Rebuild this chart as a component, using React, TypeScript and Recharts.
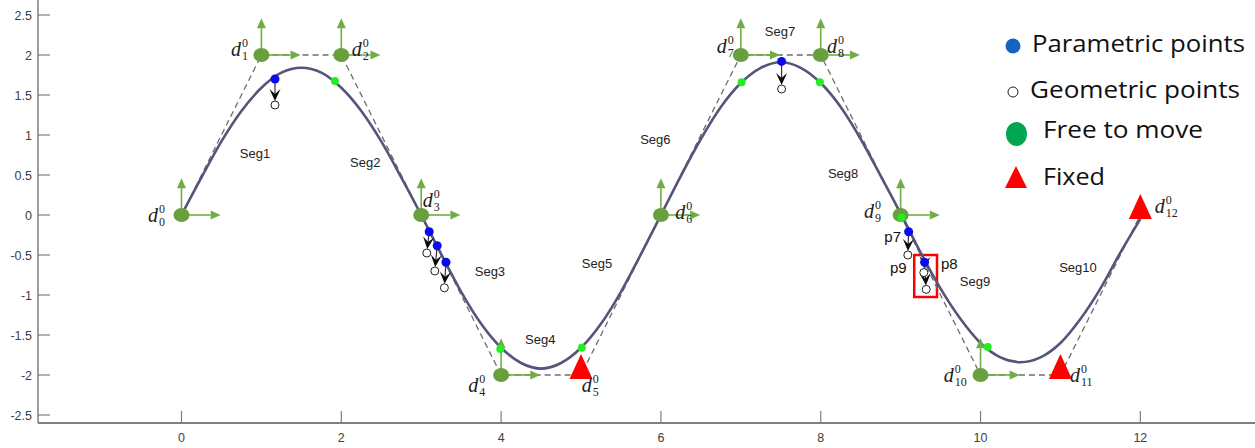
import React from "react";
import {
  ComposedChart,
  Line,
  Scatter,
  XAxis,
  YAxis,
  ReferenceLine,
  ReferenceArea,
  Legend,
} from "recharts";

// spline curve
const curveX = [
  0, 0.25, 0.5, 0.75, 1, 1.25, 1.5, 1.75, 2, 2.25, 2.5, 2.75, 3, 3.25, 3.5,
  3.75, 4, 4.25, 4.5, 4.75, 5, 5.25, 5.5, 5.75, 6, 6.25, 6.5, 6.75, 7, 7.25,
  7.5, 7.75, 8, 8.25, 8.5, 8.75, 9, 9.25, 9.5, 9.75, 10, 10.25, 10.5, 10.75,
  11, 11.25, 11.5, 11.75, 12,
];
const curveY = [
  0, 0.47, 0.92, 1.3, 1.59, 1.78, 1.84, 1.78, 1.59, 1.3, 0.92, 0.47, 0,
  -0.49, -0.96, -1.36, -1.66, -1.85, -1.92, -1.85, -1.66, -1.36, -0.96, -0.49,
  0, 0.49, 0.95, 1.35, 1.65, 1.84, 1.91, 1.84, 1.65, 1.35, 0.95, 0.49, 0.02,
  -0.47, -0.92, -1.3, -1.6, -1.78, -1.84, -1.78, -1.6, -1.3, -0.92, -0.47,
  -0.05,
];

// control points d0..d12
const ctrlX = [0, 1, 2, 3, 4, 5, 6, 7, 8, 9, 10, 11, 12];
const ctrlY = [0, 2, 2, 0, -2, -2, 0, 2, 2, 0, -2, -2, 0];
const fixedIdx = [5, 11, 12];

// parametric (blue) and geometric (hollow) points
const paramX = [1.17, 3.1, 3.2, 3.31, 7.51, 9.1, 9.3];
const paramY = [1.7, -0.21, -0.385, -0.59, 1.92, -0.21, -0.59];
const geomX = [1.17, 3.07, 3.17, 3.29, 7.51, 9.09, 9.29, 9.32];
const geomY = [1.375, -0.475, -0.7, -0.91, 1.575, -0.5, -0.72, -0.93];
const geomFrom = [0, 1, 2, 3, 4, 5, 6, 6];

// bright green knots on the curve
const knotX = [1.92, 3.99, 5.01, 7.01, 7.99, 10.09, 9.01];
const knotY = [1.675, -1.675, -1.66, 1.66, 1.66, -1.65, -0.03];

const segNames = ["Seg1", "Seg2", "Seg3", "Seg4", "Seg5", "Seg6", "Seg7", "Seg8", "Seg9", "Seg10"];
const segX = [0.92, 2.3, 3.86, 4.49, 5.2, 5.93, 7.49, 8.28, 9.93, 11.22];
const segY = [0.775, 0.66, -0.71, -1.55, -0.61, 0.94, 2.29, 0.525, -0.825, -0.66];

const dLabelX = [-0.42, 0.62, 2.13, 3.02, 3.59, 5.01, 6.18, 6.7, 8.08, 8.54, 9.54, 11.12, 12.18];
const dLabelY = [-0.09, 1.99, 1.99, 0.1, -2.21, -2.21, -0.05, 2.025, 2.025, -0.04, -2.09, -2.09, 0.025];

const pNames = ["p7", "p9", "p8"];
const pX = [8.9, 8.97, 9.61];
const pY = [-0.275, -0.66, -0.61];

const boxX = [9.17, 9.455];
const boxY = [-1.025, -0.5];

const legendNames = ["Parametric points", "Geometric points", "Free to move", "Fixed"];

const xTicks = [0, 2, 4, 6, 8, 10, 12];
const yTicks = [-2.5, -2, -1.5, -1, -0.5, 0, 0.5, 1, 1.5, 2, 2.5];

const ARROW_UP = 0.46;
const ARROW_RIGHT = 0.49;

const curveData = curveX.map((x, i) => ({ x, y: curveY[i] }));
const ctrlData = ctrlX.map((x, i) => ({ x, y: ctrlY[i], i }));
const freeData = ctrlData.filter((d) => !fixedIdx.includes(d.i));
const fixedData = ctrlData.filter((d) => fixedIdx.includes(d.i));
const paramData = paramX.map((x, i) => ({ x, y: paramY[i] }));
const geomData = geomX.map((x, i) => ({ x, y: geomY[i] }));
const knotData = knotX.map((x, i) => ({ x, y: knotY[i] }));
const segData = segNames.map((name, i) => ({ x: segX[i], y: segY[i], name }));
const dLabelData = dLabelX.map((x, i) => ({ x, y: dLabelY[i], i }));
const pData = pNames.map((name, i) => ({ x: pX[i], y: pY[i], name }));

const AXIS = "#7f7f7f";
const CURVE = "#55557a";
const ARROW_GREEN = "#70ad47";
const OLIVE = "#6a9f3e";

const arrowHead = (x1: number, y1: number, x2: number, y2: number, L: number, W: number) => {
  const a = Math.atan2(y2 - y1, x2 - x1);
  const bx = x2 - L * Math.cos(a);
  const by = y2 - L * Math.sin(a);
  const nx = -Math.sin(a) * W;
  const ny = Math.cos(a) * W;
  return { bx, by, nx, ny, a };
};

const GreenArrow = (p: any) => {
  const { x1, y1, x2, y2 } = p;
  const { bx, by, nx, ny } = arrowHead(x1, y1, x2, y2, 10, 4.5);
  return (
    <g>
      <line x1={x1} y1={y1} x2={bx} y2={by} stroke={ARROW_GREEN} strokeWidth={1.6} />
      <polygon
        points={`${x2},${y2} ${bx + nx},${by + ny} ${bx - nx},${by - ny}`}
        fill={ARROW_GREEN}
      />
    </g>
  );
};

const BlackArrow = (p: any) => {
  const { x1, y1, x2, y2 } = p;
  const a = Math.atan2(y2 - y1, x2 - x1);
  // stop at the hollow circle's edge
  const tx = x2 - 4 * Math.cos(a);
  const ty = y2 - 4 * Math.sin(a);
  const { bx, by, nx, ny } = arrowHead(x1, y1, tx, ty, 12, 5.5);
  const mx = tx - 7 * Math.cos(a);
  const my = ty - 7 * Math.sin(a);
  return (
    <g>
      <line x1={x1} y1={y1} x2={mx} y2={my} stroke="#333" strokeWidth={1.2} />
      <polygon
        points={`${tx},${ty} ${bx + nx},${by + ny} ${mx},${my} ${bx - nx},${by - ny}`}
        fill="#0a0a0a"
      />
    </g>
  );
};

const YTick = (p: any) => {
  const { x, y, payload } = p;
  return (
    <g>
      <line x1={x} y1={y} x2={x + 12} y2={y} stroke={AXIS} strokeWidth={1.2} />
      <text
        x={x - 6}
        y={y}
        dy={4.5}
        textAnchor="end"
        fontFamily="Liberation Sans, Arial, sans-serif"
        fontSize={12.5}
        fill="#404040"
      >
        {payload.value}
      </text>
    </g>
  );
};

const XTick = (p: any) => {
  const { x, y, payload } = p;
  return (
    <g>
      <line x1={x} y1={y} x2={x} y2={y - 12} stroke={AXIS} strokeWidth={1.2} />
      <text
        x={x}
        y={y + 19}
        textAnchor="middle"
        fontFamily="Liberation Sans, Arial, sans-serif"
        fontSize={12.5}
        fill="#404040"
      >
        {payload.value}
      </text>
    </g>
  );
};

const LegendBox = () => (
  <svg width={260} height={180}>
    <circle cx={18} cy={26} r={7.5} fill="#1565c0" />
    <text x={37} y={32} fontFamily="Open Sans, sans-serif" fontSize={24} fill="#111"
      textLength={213} lengthAdjust="spacingAndGlyphs">{legendNames[0]}</text>
    <circle cx={18} cy={72} r={5} fill="#fff" stroke="#222" strokeWidth={1} />
    <text x={35} y={78} fontFamily="Open Sans, sans-serif" fontSize={24} fill="#111"
      textLength={210} lengthAdjust="spacingAndGlyphs">{legendNames[1]}</text>
    <ellipse cx={21.5} cy={114} rx={10.5} ry={12} fill="#00a651" />
    <text x={48} y={118} fontFamily="Open Sans, sans-serif" fontSize={24} fill="#111"
      textLength={160} lengthAdjust="spacingAndGlyphs">{legendNames[2]}</text>
    <polygon points="21,146 10,168 32,168" fill="#ff0000" />
    <text x={48} y={165} fontFamily="Open Sans, sans-serif" fontSize={24} fill="#111"
      textLength={62} lengthAdjust="spacingAndGlyphs">{legendNames[3]}</text>
  </svg>
);

export default function App() {
  return (
    <div style={{ width: 1255, height: 448, background: "#fff" }}>
      <style>{`body{margin:0}`}</style>
      <ComposedChart
        width={1255}
        height={448}
        margin={{ top: 0, right: 0, left: 0, bottom: 0 }}
      >
        <XAxis
          type="number"
          dataKey="x"
          domain={[-1.796, 13.435]}
          ticks={xTicks}
          allowDataOverflow
          height={25}
          tickSize={0}
          tickMargin={0}
          tickLine={false}
          axisLine={{ stroke: AXIS, strokeWidth: 2 }}
          tick={<XTick />}
          interval={0}
        />
        <YAxis
          type="number"
          dataKey="y"
          domain={[-2.6, 2.6875]}
          ticks={yTicks}
          allowDataOverflow
          width={38}
          tickSize={0}
          tickMargin={0}
          tickLine={false}
          axisLine={{ stroke: AXIS, strokeWidth: 1.5 }}
          tick={<YTick />}
          interval={0}
        />
        <Legend
          layout="horizontal"
          verticalAlign="middle"
          align="center"
          content={() => <LegendBox />}
          wrapperStyle={{ position: "absolute", left: 995, top: 20, width: 260, height: 180 }}
        />

        {/* control polygon */}
        <Line
          data={ctrlData}
          dataKey="y"
          type="linear"
          stroke="#6e6e6e"
          strokeWidth={1.3}
          strokeDasharray="6 4"
          dot={false}
          isAnimationActive={false}
        />
        {/* spline */}
        <Line
          data={curveData}
          dataKey="y"
          type="monotone"
          stroke={CURVE}
          strokeWidth={2.6}
          dot={false}
          isAnimationActive={false}
        />

        {/* move directions of the free control points */}
        {freeData.map((d) => (
          <ReferenceLine
            key={`u${d.i}`}
            segment={[{ x: d.x, y: d.y }, { x: d.x, y: d.y + ARROW_UP }]}
            shape={GreenArrow}
            ifOverflow="visible"
          />
        ))}
        {freeData.map((d) => (
          <ReferenceLine
            key={`r${d.i}`}
            segment={[{ x: d.x, y: d.y }, { x: d.x + ARROW_RIGHT, y: d.y }]}
            shape={GreenArrow}
            ifOverflow="visible"
          />
        ))}

        <Scatter
          data={freeData}
          isAnimationActive={false}
          shape={(p: any) => <ellipse cx={p.cx} cy={p.cy} rx={8} ry={7} fill={OLIVE} />}
        />
        <Scatter
          data={fixedData}
          isAnimationActive={false}
          shape={(p: any) => (
            <polygon
              points={`${p.cx},${p.cy - 21} ${p.cx - 11.5},${p.cy + 4} ${p.cx + 11.5},${p.cy + 4}`}
              fill="#ff0000"
            />
          )}
        />
        <Scatter
          data={knotData}
          isAnimationActive={false}
          shape={(p: any) => <circle cx={p.cx} cy={p.cy} r={4} fill="#22ee22" />}
        />

        {/* parametric -> geometric moves */}
        {geomData.map((g, i) => (
          <ReferenceLine
            key={`b${i}`}
            segment={[paramData[geomFrom[i]], g]}
            shape={BlackArrow}
            ifOverflow="visible"
          />
        ))}
        <Scatter
          data={geomData}
          isAnimationActive={false}
          shape={(p: any) => (
            <circle cx={p.cx} cy={p.cy} r={4} fill="#fff" stroke="#222" strokeWidth={1} />
          )}
        />
        <Scatter
          data={paramData}
          isAnimationActive={false}
          shape={(p: any) => <circle cx={p.cx} cy={p.cy} r={4.5} fill="#0a0aee" />}
        />

        <ReferenceArea
          x1={boxX[0]}
          x2={boxX[1]}
          y1={boxY[0]}
          y2={boxY[1]}
          fill="none"
          fillOpacity={0}
          stroke="#ff0000"
          strokeWidth={2.5}
          ifOverflow="visible"
        />

        {/* labels */}
        <Scatter
          data={segData}
          isAnimationActive={false}
          shape={(p: any) => (
            <text
              x={p.cx}
              y={p.cy}
              dy={4.5}
              textAnchor="middle"
              fontFamily="Liberation Sans, Arial, sans-serif"
              fontSize={13}
              fill="#222"
            >
              {p.payload.name}
            </text>
          )}
        />
        <Scatter
          data={pData}
          isAnimationActive={false}
          shape={(p: any) => (
            <text
              x={p.cx}
              y={p.cy}
              dy={5}
              textAnchor="middle"
              fontFamily="Liberation Sans, Arial, sans-serif"
              fontSize={15}
              fill="#111"
            >
              {p.payload.name}
            </text>
          )}
        />
        <Scatter
          data={dLabelData}
          isAnimationActive={false}
          shape={(p: any) => (
            <g fontFamily="Liberation Serif, Times New Roman, serif" fill="#222">
              <text x={p.cx} y={p.cy} fontSize={20} fontStyle="italic">
                d
              </text>
              <text x={p.cx + 11} y={p.cy - 9} fontSize={12}>
                0
              </text>
              <text x={p.cx + 11} y={p.cy + 4} fontSize={12}>
                {p.payload.i}
              </text>
            </g>
          )}
        />
      </ComposedChart>
    </div>
  );
}
